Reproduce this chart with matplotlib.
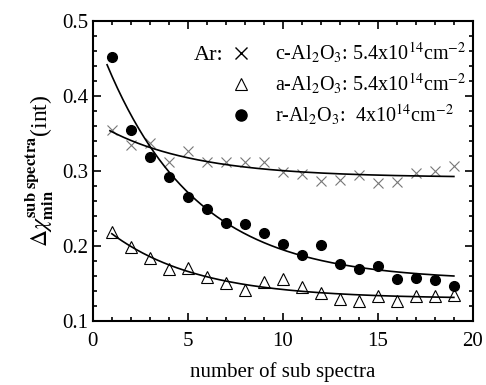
import numpy as np
import matplotlib.pyplot as plt
from matplotlib.lines import Line2D
from matplotlib.ticker import MultipleLocator

plt.rcParams['font.family'] = 'Liberation Serif'
plt.rcParams['mathtext.fontset'] = 'stix'

n_sub = np.arange(1, 20)
c_al2o3 = [0.355, 0.335, 0.337, 0.312, 0.327, 0.312, 0.312, 0.312, 0.312, 0.299,
           0.296, 0.287, 0.288, 0.295, 0.284, 0.286, 0.298, 0.300, 0.307]
a_al2o3 = [0.219, 0.199, 0.184, 0.169, 0.171, 0.159, 0.151, 0.141, 0.152, 0.156,
           0.146, 0.138, 0.129, 0.127, 0.134, 0.127, 0.133, 0.134, 0.135]
r_al2o3 = [0.452, 0.355, 0.319, 0.292, 0.265, 0.249, 0.231, 0.229, 0.218, 0.203,
           0.188, 0.202, 0.176, 0.170, 0.173, 0.156, 0.158, 0.155, 0.147]

labels = [r'c-Al$_2$O$_3$: 5.4x10$^{14}$cm$^{-2}$',
          r'a-Al$_2$O$_3$: 5.4x10$^{14}$cm$^{-2}$',
          r'r-Al$_2$O$_3$:  4x10$^{14}$cm$^{-2}$']


def fit_exp(x, y):
    # y = y0 + A*exp(-x/t), scan t and solve the linear part
    x = np.asarray(x, float)
    y = np.asarray(y, float)
    best = None
    for t in np.linspace(0.5, 20, 400):
        M = np.column_stack([np.ones_like(x), np.exp(-x / t)])
        coef, *_ = np.linalg.lstsq(M, y, rcond=None)
        err = np.sum((M @ coef - y) ** 2)
        if best is None or err < best[0]:
            best = (err, t, coef)
    return best[1], best[2]


fig = plt.figure(figsize=(4.86, 3.85), dpi=100)
ax = fig.add_axes([0.191, 0.166, 0.782, 0.779])

ax.plot(n_sub, c_al2o3, 'x', color='#777777', ms=7, mew=0.8)
ax.plot(n_sub, a_al2o3, '^', mfc='white', mec='black', ms=8, mew=0.8)
ax.plot(n_sub, r_al2o3, 'o', color='black', ms=7)

for data, x0 in [(c_al2o3, 0.9), (a_al2o3, 1.0), (r_al2o3, 0.75)]:
    t, (y0, A) = fit_exp(n_sub, data)
    xf = np.linspace(x0, 19, 200)
    ax.plot(xf, y0 + A * np.exp(-xf / t), color='black', lw=1.2)

ax.set_xlim(0, 20)
ax.set_ylim(0.1, 0.5)
ax.xaxis.set_major_locator(MultipleLocator(5))
ax.xaxis.set_minor_locator(MultipleLocator(1))
ax.yaxis.set_major_locator(MultipleLocator(0.1))
ax.yaxis.set_minor_locator(MultipleLocator(0.02))
ax.tick_params(which='both', direction='in', top=True, right=True, labelsize=15, width=1.2)
ax.tick_params(which='major', length=6)
ax.tick_params(which='minor', length=3)
ax.tick_params(axis='x', pad=8)
ax.set_xticks([0, 5, 10, 15, 20])
ax.set_xticklabels(['0', '5', '10', '15', '20'])
for s in ax.spines.values():
    s.set_linewidth(1.5)

ax.set_xlabel('number of sub spectra', fontsize=15, labelpad=8)
ax.set_ylabel(r'$\Delta\chi_{\mathbf{min}}^{\mathbf{sub\ spectra}}$(int)', fontsize=17)

handles = [Line2D([], [], ls='', marker='x', color='black', ms=8, mew=1),
           Line2D([], [], ls='', marker='^', mfc='white', mec='black', ms=8, mew=0.8),
           Line2D([], [], ls='', marker='o', color='black', ms=8)]
ax.legend(handles, labels, loc='upper right', frameon=False, fontsize=14.5,
          handletextpad=0.7, labelspacing=0.3, borderpad=0.1,
          bbox_to_anchor=(1.015, 0.975))
ax.text(0.265, 0.885, 'Ar:', transform=ax.transAxes, fontsize=16, va='center')

fig.savefig('out.png', dpi=100)
